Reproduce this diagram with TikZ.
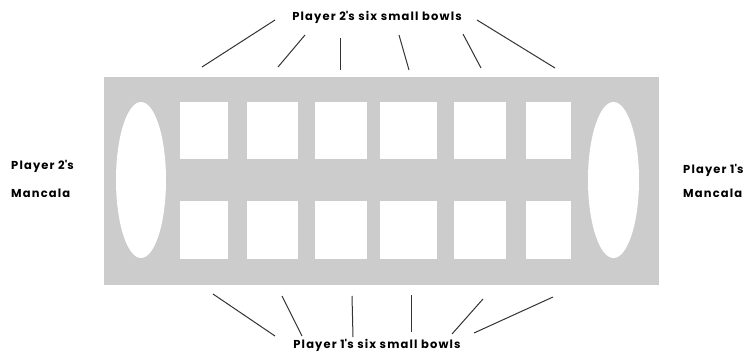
\documentclass[tikz,border=0pt]{standalone}
\usepackage{fontspec}
\setmainfont{Poppins}
\newfontfamily\bowlfont{Poppins}[LetterSpace=10]
\usetikzlibrary{positioning,shapes.geometric}
\definecolor{boardgray}{HTML}{CCCCCC}
\definecolor{linegray}{HTML}{333333}

\begin{document}
\begin{tikzpicture}[x=1pt, y=-1pt,
  bowl/.style={rectangle, fill=white, inner sep=0pt},
  store/.style={ellipse, fill=white, inner sep=0pt, minimum width=50pt, minimum height=156pt},
  lbl/.style={font=\bowlfont\fontsize{11.5}{13}\selectfont\bfseries, inner sep=0pt},
  pointer/.style={draw=linegray, line width=1pt}]
\useasboundingbox (0,0) rectangle (756,354);
% board and the two mancalas
\node [fill=boardgray, minimum width=555pt, minimum height=208pt, inner sep=0pt] (board) at (381.5,181) {};
\node [store] (m2) at (141,180) {};
\node [store, minimum width=51pt] (m1) at (613.5,180) {};
% small bowls: t = player 2 (top), b = player 1 (bottom)
\foreach \i/\x/\w in {1/204/48, 2/272.5/51, 3/341/52, 4/408.5/57, 5/480/52, 6/548.5/45} {
  \node [bowl, minimum width=\w pt, minimum height=57pt] (t\i) at (\x,130.5) {};
  \node [bowl, minimum width=\w pt, minimum height=58pt] (b\i) at (\x,230) {};
}
% labels
\node [lbl] (p2bowls) at (377,17) {Player 2\textquotesingle s six small bowls};
\node [lbl] (p1bowls) at (377,345) {Player 1\textquotesingle s six small bowls};
\node [lbl, anchor=base west] (p2name) at (11,169) {Player 2\textquotesingle s};
\node [lbl, anchor=base west] (p2store) at (11,197) {Mancala};
\node [lbl, anchor=base west] (p1name) at (683,173) {Player 1\textquotesingle s};
\node [lbl, anchor=base west] (p1store) at (683,197) {Mancala};
% pointer lines
\foreach \i/\xa/\ya/\xb/\yb in {1/275/20/202/67, 2/305/35/278/67, 3/340/38/340/70,
                                4/399/35/409/70, 5/463/34/481/68, 6/477/20/555/68} {
  \coordinate (ts\i) at (\xa,\ya);
  \coordinate (te\i) at (\xb,\yb);
  \draw [pointer] (ts\i) -- (te\i);
}
\foreach \i/\xa/\ya/\xb/\yb in {1/275/336/213/294, 2/302/336/282/296, 3/353/337/352/296,
                                4/411/332/411/295, 5/452/334/483/299, 6/474/333/553/297} {
  \coordinate (bs\i) at (\xa,\ya);
  \coordinate (be\i) at (\xb,\yb);
  \draw [pointer] (bs\i) -- (be\i);
}
\end{tikzpicture}
\end{document}
